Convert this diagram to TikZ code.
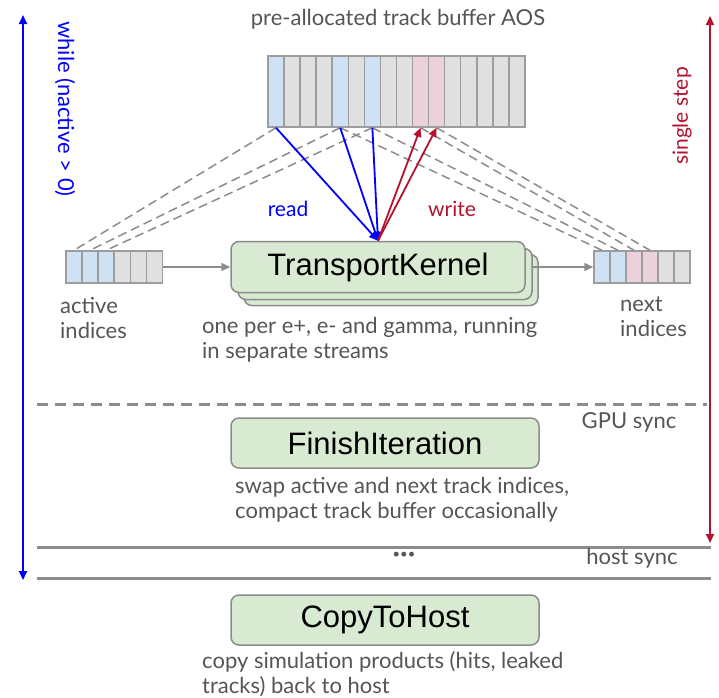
\documentclass[tikz,border=0pt]{standalone}
\usepackage{fontspec}
\setmainfont{Lato}
\newfontfamily\kernelfont{Liberation Sans}
\usetikzlibrary{arrows.meta}

\definecolor{cellblue}{HTML}{CFE2F3}
\definecolor{cellpink}{HTML}{EAD1DC}
\definecolor{cellgray}{HTML}{E0E0E0}
\definecolor{kgreen}{HTML}{D9EAD3}
\definecolor{lgray}{HTML}{8C8C8C}
\definecolor{tgray}{HTML}{555555}
\definecolor{sred}{HTML}{B5122F}

\tikzset{
  cell/.style={draw=lgray!85,line width=1.5pt,inner sep=0pt,minimum width=16pt},
  kbox/.style={draw=lgray,fill=kgreen,rounded corners=8pt,line width=1.5pt,
    minimum width=294pt,minimum height=51pt,
    font=\kernelfont\fontsize{31}{34}\selectfont},
  note/.style={text=tgray,inner sep=0pt,align=left,anchor=north west,
    font=\fontsize{22}{25}\selectfont},
  link/.style={lgray,line width=1.5pt,dash pattern=on 9pt off 5pt},
  sep/.style={lgray,line width=3pt}
}

\begin{document}
\begin{tikzpicture}[x=1pt,y=-1pt,>={Triangle[length=9pt,width=8pt]}]
\useasboundingbox (0,0) rectangle (719,697);

% track buffer
\foreach \c [count=\i from 0] in {cellblue,cellgray,cellgray,cellgray,cellblue,cellgray,cellblue,cellgray,cellgray,cellpink,cellpink,cellgray,cellgray,cellgray,cellgray,cellgray}
  \node[cell,fill=\c,minimum width=16.06pt,minimum height=71pt] (b\i) at ({276+16.06*\i},91.5) {};
\node[note,anchor=south] (aos) at (398,29) {pre-allocated track buffer AOS};

% index buffers
\foreach \c [count=\i from 0] in {cellblue,cellblue,cellblue,cellgray,cellgray,cellgray}
  \node[cell,fill=\c,minimum height=32pt] (a\i) at ({74+16.1*\i},267) {};
\foreach \c [count=\i from 0] in {cellblue,cellblue,cellpink,cellpink,cellgray,cellgray}
  \node[cell,fill=\c,minimum height=32pt] (n\i) at ({602+16*\i},267) {};
\node[note] (act) at (60,297) {active\\indices};
\node[note] (nxt) at (620,297) {next\\indices};

% kernels
\node[kbox] (tk3) at (391,280) {};
\node[kbox] (tk2) at (385,274) {};
\node[kbox] (tk) at (378,267) {TransportKernel};
\node[note] (tknote) at (202,317) {one per e+, e- and gamma, running\\in separate streams};

% index links
\draw[link] (b0.south) -- (a0.north);
\draw[link] (b4.south) -- (a1.north);
\draw[link] (b6.south) -- (a2.north);
\draw[link] (b4.south) -- (n0.north);
\draw[link] (b6.south) -- (n1.north);
\draw[link] (b9.south) -- (n2.north);
\draw[link] (b10.south) -- (n3.north);

% read / write
\foreach \j in {0,4,6}
  \draw[->,blue,line width=1.8pt] (b\j.south) -- (tk.north);
\foreach \j in {9,10}
  \draw[->,sred,line width=1.8pt] (tk.north) -- (b\j.south);
\node[blue,font=\fontsize{21}{25}\selectfont] (rd) at (288,209) {read};
\node[sred,font=\fontsize{21}{25}\selectfont] (wr) at (452,209) {write};

\draw[->,lgray,line width=1.5pt] (a5.east) -- (tk.west);
\draw[->,lgray,line width=1.5pt] (tk2.east |- n0.west) -- (n0.west);

% GPU sync
\coordinate (g1) at (37,404);
\coordinate (g2) at (707,404);
\draw[sep,dash pattern=on 11pt off 7pt] (g1) -- (g2);
\node[note,anchor=center] (gpu) at (629,422) {GPU sync};

\node[kbox,minimum width=308pt,minimum height=50pt] (fi) at (385,443) {FinishIteration};
\node[note] (finote) at (235,477) {swap active and next track indices,\\compact track buffer occasionally};

% host sync
\coordinate (h1) at (37,547);
\coordinate (h2) at (711,547);
\coordinate (h3) at (37,578);
\coordinate (h4) at (711,578);
\draw[sep] (h1) -- (h2);
\draw[sep] (h3) -- (h4);
\node[text=tgray,font=\fontsize{13}{15}\selectfont] (dots) at (404,555) {•••};
\node[note,anchor=center] (host) at (632,558) {host sync};

\node[kbox,minimum width=308pt,minimum height=50pt] (cp) at (385,620) {CopyToHost};
\node[note] (cpnote) at (202,651) {copy simulation products (hits, leaked\\tracks) back to host};

% loops
\coordinate (wt) at (23,15);
\coordinate (wb) at (23,580);
\draw[<->,blue,line width=1.8pt] (wt) -- (wb);
\node[blue,rotate=-90,font=\fontsize{22}{26}\selectfont] (wl) at (65,109) {while (nactive > 0)};
\coordinate (st) at (710,16);
\coordinate (sb) at (710,543);
\draw[<->,sred,line width=1.8pt] (st) -- (sb);
\node[sred,rotate=90,font=\fontsize{21}{25}\selectfont] (sl) at (682,116) {single step};
\end{tikzpicture}
\end{document}
